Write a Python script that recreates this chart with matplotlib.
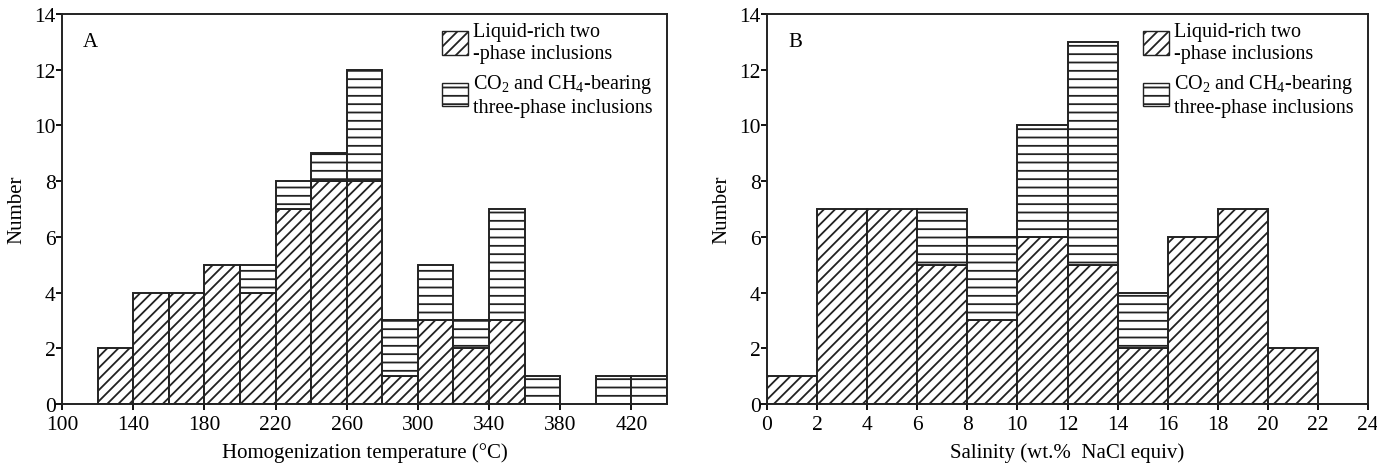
import matplotlib
matplotlib.use("Agg")
import matplotlib.pyplot as plt
import numpy as np
from matplotlib.patches import Patch

plt.rcParams["font.family"] = ["Liberation Serif", "DejaVu Serif"]
plt.rcParams["mathtext.fontset"] = "custom"
plt.rcParams["mathtext.rm"] = "Liberation Serif"
plt.rcParams["mathtext.it"] = "Liberation Serif:italic"
plt.rcParams["hatch.linewidth"] = 1.3

# panel A: homogenization temperature, 20 °C bins starting at 100
temp_edges = np.arange(100, 440, 20)
temp_liquid = [0, 2, 4, 4, 5, 4, 7, 8, 8, 1, 3, 2, 3, 0, 0, 0, 0]
temp_co2 = [0, 0, 0, 0, 0, 1, 1, 1, 4, 2, 2, 1, 4, 1, 0, 1, 1]
temp_ticks = [100, 140, 180, 220, 260, 300, 340, 380, 420]

# panel B: salinity, 2 wt.% bins starting at 0
sal_edges = np.arange(0, 22, 2)
sal_liquid = [1, 7, 7, 5, 3, 6, 5, 2, 6, 7, 2]
sal_co2 = [0, 0, 0, 2, 3, 4, 8, 2, 0, 0, 0]
sal_ticks = list(range(0, 26, 2))

EDGE = "#222222"
LIQ_LABEL = "Liquid-rich two\n-phase inclusions"
CO2_LABEL = "CO$_2$ and CH$_4$-bearing\nthree-phase inclusions"


def draw_panel(ax, edges, liquid, co2, width, xlim, xticks, xlabel, tag):
    liquid = np.asarray(liquid)
    co2 = np.asarray(co2)
    m = liquid > 0
    ax.bar(edges[m], liquid[m], width=width, align="edge", facecolor="white",
           edgecolor=EDGE, hatch="///", linewidth=1.4)
    m = co2 > 0
    ax.bar(edges[m], co2[m], bottom=liquid[m], width=width, align="edge",
           facecolor="white", edgecolor=EDGE, hatch="--", linewidth=1.4)
    ax.set_xlim(*xlim)
    ax.set_ylim(0, 14)
    ax.set_xticks(xticks)
    ax.set_yticks(range(0, 15, 2))
    ax.tick_params(direction="out", length=4, width=1.3, labelsize=15.5)
    ax.tick_params(axis="y", pad=0.5)
    ax.tick_params(axis="x", pad=4)
    for s in ax.spines.values():
        s.set_linewidth(1.4)
        s.set_color(EDGE)
    ax.set_xlabel(xlabel, fontsize=15, labelpad=6)
    ax.set_ylabel("Number", fontsize=15, labelpad=6)
    ax.text(0.035, 0.93, tag, transform=ax.transAxes, fontsize=15, va="center")
    handles = [Patch(facecolor="white", edgecolor=EDGE, hatch="///", label=LIQ_LABEL),
               Patch(facecolor="white", edgecolor=EDGE, hatch="--", label=CO2_LABEL)]
    ax.legend(handles=handles, loc="upper right", frameon=False, fontsize=14.5,
              handlelength=1.3, handleheight=1.4, handletextpad=0.25,
              labelspacing=0.45, borderpad=0.1, borderaxespad=0.6,
              bbox_to_anchor=(1.0, 1.015))


fig = plt.figure(figsize=(13.77, 4.64), dpi=100)
W, H = 1377, 464
axA = fig.add_axes([62 / W, (H - 405) / H, 605 / W, 390 / H])
axB = fig.add_axes([767 / W, (H - 405) / H, 601 / W, 390 / H])

draw_panel(axA, temp_edges, temp_liquid, temp_co2, 20, (100, 440), temp_ticks,
           "Homogenization temperature (°C)", "A")
draw_panel(axB, sal_edges, sal_liquid, sal_co2, 2, (0, 24), sal_ticks,
           "Salinity (wt.%  NaCl equiv)", "B")

fig.savefig("out.png", dpi=100)
